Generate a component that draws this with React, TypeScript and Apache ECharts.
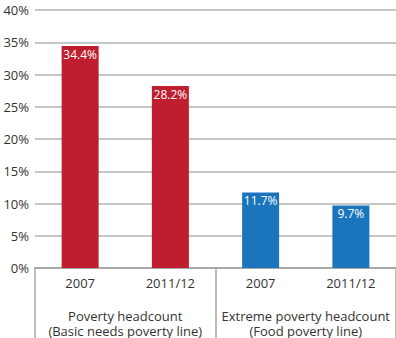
import React, { useEffect, useRef } from "react";
import * as echarts from "echarts";

const categories = ["2007", "2011/12", "2007", "2011/12"];
const groups = [
  "Poverty headcount\n(Basic needs poverty line)",
  "Extreme poverty headcount\n(Food poverty line)",
];
const values = [34.4, 28.2, 11.7, 9.7];
const barColors = ["#BE1E2D", "#BE1E2D", "#1B75BC", "#1B75BC"];

export default function App() {
  const ref = useRef<HTMLDivElement>(null);
  useEffect(() => {
    const chart = echarts.init(ref.current!, null, { renderer: "svg" });
    const font = "'Open Sans', 'Liberation Sans', sans-serif";
    chart.setOption({
      animation: false,
      grid: { left: 35, right: -1, top: 10, bottom: 69, containLabel: false },
      xAxis: [
        {
          type: "category",
          data: categories,
          position: "bottom",
          axisLine: { show: true, lineStyle: { color: "#a6a6a6", width: 1.5 } },
          axisTick: { show: false },
          axisLabel: { margin: 8, color: "#333", fontSize: 13, fontFamily: font, interval: 0 },
        },
        {
          type: "category",
          data: groups,
          position: "bottom",
          offset: 0,
          axisLine: { show: true, lineStyle: { color: "#a6a6a6", width: 1.5 } },
          axisTick: {
            show: true,
            interval: 0,
            length: 72,
            lineStyle: { color: "#a6a6a6", width: 1.5 },
          },
          axisLabel: {
            interval: 0,
            margin: 40,
            color: "#333",
            fontSize: 13,
            lineHeight: 15,
            fontFamily: font,
            hideOverlap: false,
          },
        },
      ],
      yAxis: {
        type: "value",
        min: 0,
        max: 40,
        interval: 5,
        axisLine: { show: false },
        axisTick: { show: false },
        axisLabel: {
          formatter: "{value}%",
          margin: 6,
          color: "#333",
          fontSize: 13,
          fontFamily: font,
        },
        splitLine: { lineStyle: { color: "#b3b3b3", width: 1.5 } },
      },
      series: [
        {
          type: "bar",
          xAxisIndex: 0,
          barWidth: 37,
          data: values.map((v, i) => ({ value: v, itemStyle: { color: barColors[i] } })),
          label: {
            show: true,
            position: "insideTop",
            distance: 2,
            formatter: (p: any) => p.value.toFixed(1) + "%",
            color: "#fff",
            fontSize: 12,
            fontFamily: font,
          },
        },
      ],
    });
    return () => chart.dispose();
  }, []);
  return (
    <div
      ref={ref}
      style={{ position: "fixed", left: 0, top: 0, width: 396, height: 338, background: "#fff" }}
    />
  );
}
